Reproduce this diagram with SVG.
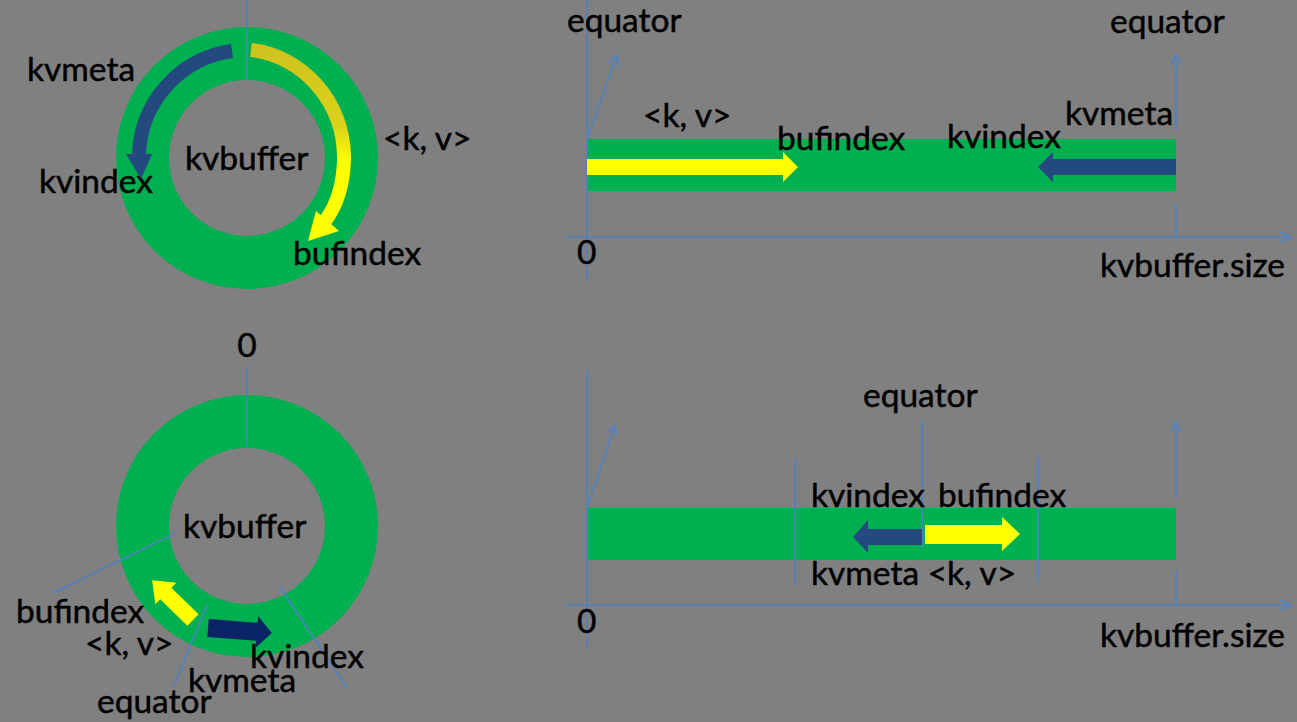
<svg xmlns="http://www.w3.org/2000/svg" width="1297" height="722" viewBox="0 0 1297 722">
<style>
.t{font-family:Lato,"Liberation Sans",sans-serif;font-size:33.5px;fill:#000;stroke:#000;stroke-width:0.5}
.ln{stroke:#4f81c4;stroke-width:1.6;fill:none}
.green{fill:#00b050}
</style>
<defs>
<marker id="oa" viewBox="0 0 12 12" refX="11" refY="6" markerWidth="12" markerHeight="12" markerUnits="userSpaceOnUse" orient="auto">
<path d="M1,1 L11,6 L1,11" fill="none" stroke="#4f81c4" stroke-width="1.6"/>
</marker>
<linearGradient id="yg" x1="0" y1="0" x2="0" y2="1">
<stop offset="0" stop-color="#cfc21e"/>
<stop offset="0.45" stop-color="#dcd21a"/>
<stop offset="0.65" stop-color="#ffff00"/>
<stop offset="1" stop-color="#ffff00"/>
</linearGradient>
</defs>
<rect width="1297" height="722" fill="#808080"/>

<g id="ring-top">
<circle cx="247" cy="158" r="104.5" fill="none" stroke="#00b050" stroke-width="53"/>
<line class="ln" x1="247" y1="0" x2="247" y2="80"/>
<text class="t" x="27" y="81">kvmeta</text>
<text class="t" x="39" y="193">kvindex</text>
<text class="t" x="185" y="170">kvbuffer</text>
<text class="t" x="383" y="150">&lt;k, v&gt;</text>
<text class="t" x="293" y="265">bufindex</text>
<g id="ring-top-kvmeta-arrow">
<path d="M 232 51 A 108 108 0 0 0 139 154" fill="none" stroke="#24497e" stroke-width="14"/>
<polygon points="126,154 152,154 141,179" fill="#24497e"/>
</g>
<g id="ring-top-kv-arrow">
<path d="M 251 50 C 300 55 345 100 344 160 C 343 190 335 208 325 221" fill="none" stroke="url(#yg)" stroke-width="14"/>
<polygon points="316,211 339,231 308,241" fill="#ffff00"/>
</g>
</g>

<g id="ring-bottom">
<circle cx="247" cy="526" r="104.5" fill="none" stroke="#00b050" stroke-width="53"/>
<text class="t" x="247" y="357" text-anchor="middle">0</text>
<line class="ln" x1="247" y1="367" x2="247" y2="447"/>
<line class="ln" x1="176" y1="533" x2="53" y2="593"/>
<line class="ln" x1="207" y1="605" x2="173" y2="688"/>
<line class="ln" x1="280" y1="587" x2="347" y2="688"/>
<text class="t" x="183" y="538">kvbuffer</text>
<text class="t" x="16" y="623">bufindex</text>
<text class="t" x="85" y="655">&lt;k, v&gt;</text>
<text class="t" x="250" y="668">kvindex</text>
<text class="t" x="188" y="692">kvmeta</text>
<text class="t" x="97" y="713">equator</text>
<g id="ring-bottom-kv-arrow" transform="translate(193,620) rotate(224.3)">
<polygon points="0,-8 38,-8 38,-15 57,0 38,15 38,8 0,8" fill="#ffff00"/>
</g>
<g id="ring-bottom-kvmeta-arrow" transform="translate(208,628) rotate(4.5)">
<polygon points="0,-9 49,-9 49,-16 64,0 49,16 49,9 0,9" fill="#0b2466"/>
</g>
</g>

<g id="linear-top">
<rect class="green" x="587" y="139" width="589" height="52"/>
<line class="ln" x1="587" y1="0" x2="587" y2="280"/>
<line class="ln" x1="565" y1="237" x2="1291" y2="237" marker-end="url(#oa)"/>
<line class="ln" x1="587" y1="139" x2="617" y2="55" marker-end="url(#oa)"/>
<line class="ln" x1="1176" y1="130" x2="1176" y2="55" marker-end="url(#oa)"/>
<line class="ln" x1="1176" y1="203" x2="1176" y2="237"/>
<g id="linear-top-kv-arrow">
<polygon points="587,159 783,159 783,152 798,167 783,182 783,175 587,175" fill="#ffff00"/>
</g>
<g id="linear-top-kvmeta-arrow">
<polygon points="1176,159 1053,159 1053,152 1038,167 1053,182 1053,175 1176,175" fill="#24497e"/>
</g>
<text class="t" x="567" y="32">equator</text>
<text class="t" x="1110" y="33">equator</text>
<text class="t" x="643" y="127">&lt;k, v&gt;</text>
<text class="t" x="777" y="150">bufindex</text>
<text class="t" x="947" y="148">kvindex</text>
<text class="t" x="1065" y="125">kvmeta</text>
<text class="t" x="577" y="264">0</text>
<text class="t" x="1100" y="277">kvbuffer.size</text>
</g>

<g id="linear-bottom">
<rect class="green" x="587" y="508" width="589" height="52"/>
<line class="ln" x1="587" y1="370" x2="587" y2="647"/>
<line class="ln" x1="565" y1="605" x2="1291" y2="605" marker-end="url(#oa)"/>
<line class="ln" x1="587" y1="507" x2="615" y2="425" marker-end="url(#oa)"/>
<line class="ln" x1="1176" y1="498" x2="1176" y2="422" marker-end="url(#oa)"/>
<line class="ln" x1="1176" y1="570" x2="1176" y2="605"/>
<line class="ln" x1="922" y1="422" x2="922" y2="548"/>
<line class="ln" x1="795" y1="458" x2="795" y2="585"/>
<line class="ln" x1="1038" y1="457" x2="1038" y2="582"/>
<g id="linear-bottom-kvmeta-arrow">
<polygon points="922,529 868,529 868,520 853,537 868,553 868,545 922,545" fill="#24497e"/>
</g>
<g id="linear-bottom-kv-arrow">
<polygon points="925,525 1002,525 1002,517 1020,534 1002,551 1002,544 925,544" fill="#ffff00"/>
</g>
<text class="t" x="863" y="407">equator</text>
<text class="t" x="811" y="507">kvindex</text>
<text class="t" x="938" y="507">bufindex</text>
<text class="t" x="811" y="585">kvmeta &lt;k, v&gt;</text>
<text class="t" x="577" y="633">0</text>
<text class="t" x="1100" y="647">kvbuffer.size</text>
</g>
</svg>
